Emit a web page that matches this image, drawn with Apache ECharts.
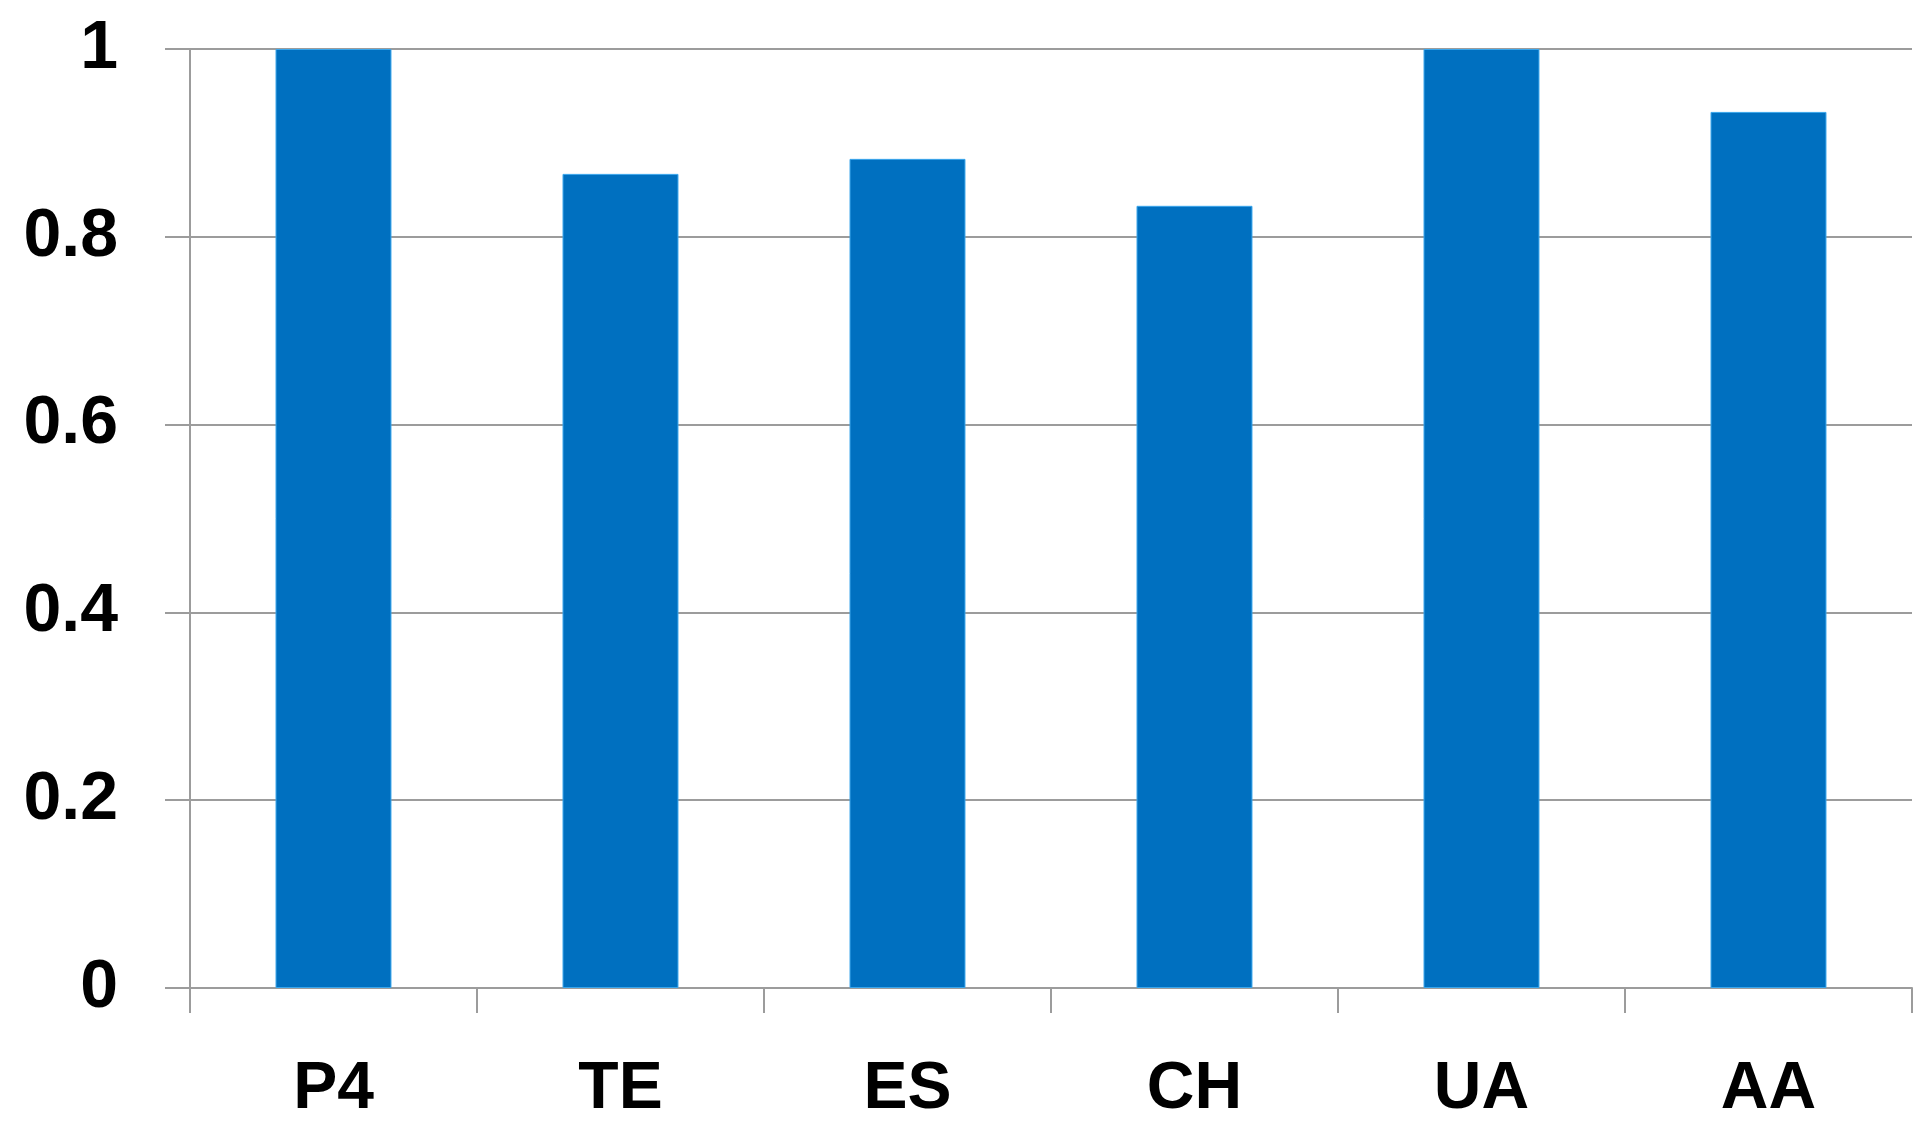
<!DOCTYPE html>
<html>
<head>
<meta charset="utf-8">
<script src="https://cdn.jsdelivr.net/npm/echarts@6/dist/echarts.min.js"></script>
<style>
html,body{margin:0;padding:0;background:#fff;}
#c{width:1931px;height:1135px;}
</style>
</head>
<body>
<div id="c"></div>
<script>
const categories = ['P4', 'TE', 'ES', 'CH', 'UA', 'AA'];
const values = [1, 0.867, 0.883, 0.833, 1, 0.933];
const yMin = 0, yMax = 1, yStep = 0.2;

const axisGray = '#9c9c9c';
const font = '"Liberation Sans", Arial, sans-serif';

const chart = echarts.init(document.getElementById('c'));
chart.setOption({
  animation: false,
  backgroundColor: '#fff',
  grid: { left: 190, right: 19, top: 49, bottom: 147, containLabel: false },
  xAxis: {
    type: 'category',
    data: categories,
    boundaryGap: true,
    axisLine: { show: true, lineStyle: { color: axisGray, width: 2 } },
    axisTick: { show: true, length: 25, alignWithLabel: false, lineStyle: { color: axisGray, width: 2 } },
    axisLabel: { margin: 69, color: '#000', fontFamily: font, fontWeight: 'bold', fontSize: 66, lineHeight: 66 },
    splitLine: { show: false }
  },
  yAxis: {
    type: 'value',
    min: yMin, max: yMax, interval: yStep,
    axisLine: { show: true, lineStyle: { color: axisGray, width: 2 } },
    axisTick: { show: true, length: 25, lineStyle: { color: axisGray, width: 2 } },
    axisLabel: { margin: 72, color: '#000', fontFamily: font, fontWeight: 'bold', fontSize: 68 },
    splitLine: { show: true, lineStyle: { color: axisGray, width: 2 } }
  },
  series: [{
    type: 'bar',
    data: values,
    barWidth: '40.4%',
    itemStyle: { color: '#0070c0', borderColor: '#3aa6ec', borderWidth: 1 }
  }]
});
</script>
</body>
</html>
